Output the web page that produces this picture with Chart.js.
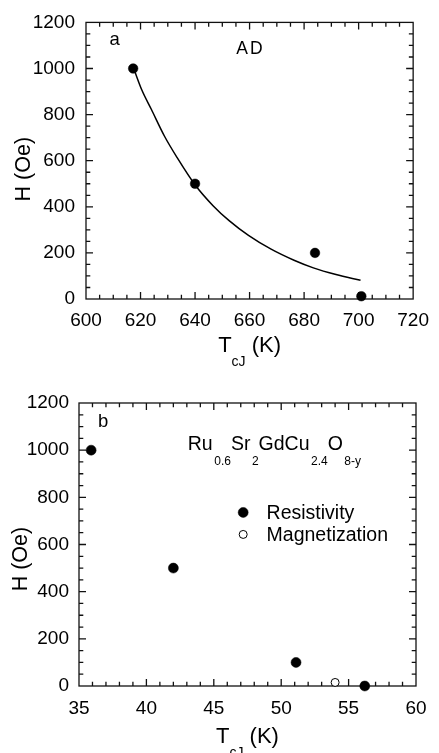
<!DOCTYPE html>
<html>
<head>
<meta charset="utf-8">
<script src="https://cdn.jsdelivr.net/npm/chart.js@4.4.1/dist/chart.umd.min.js"></script>
<style>
  html, body { margin: 0; padding: 0; background: #fff; width: 439px; height: 753px; overflow: hidden; }
  canvas { position: absolute; left: 0; }
  #chartA { top: 0; }
  #chartB { top: 375px; }
</style>
</head>
<body>
<canvas id="chartA" width="439" height="375"></canvas>
<canvas id="chartB" width="439" height="378"></canvas>
<script>
// ---- Panel a: AD sample, field vs junction temperature ----
const adTemps  = [617.3, 640, 684, 701];
const adFields = [1000, 500, 200, 12];
// smooth guide curve through the AD points
const adCurveTemps  = [617.8, 620.4, 624.0, 628.8, 633.5, 639.9, 646.6, 652.5, 659.6, 667.9, 676.3, 683.4, 691.7, 700.7];
const adCurveFields = [990, 909, 822, 706, 612, 497, 405, 340, 276, 216, 168, 135, 106, 81];
const adXTicks = [600, 620, 640, 660, 680, 700, 720];
const adYTicks = [0, 200, 400, 600, 800, 1000, 1200];

// ---- Panel b: Ru0.6Sr2GdCu2.4O8-y ----
const resTemps  = [35.9, 42.0, 51.1, 56.2];
const resFields = [1000, 500, 100, 0];
const magTemps  = [54.0];
const magFields = [15];
const bXTicks = [35, 40, 45, 50, 55, 60];
const bYTicks = [0, 200, 400, 600, 800, 1000, 1200];

const FONT = "'Liberation Sans', Arial, Helvetica, sans-serif";

function font(size) { return size + 'px ' + FONT; }

// draw a run of text pieces, some of them as subscripts
function drawRich(ctx, pieces, x, y, baseSize, subSize, subDrop, subGap) {
  let cx = x;
  for (const [t, sub] of pieces) {
    if (sub) {
      cx += subGap;
      ctx.font = font(subSize);
      ctx.fillText(t, cx, y + subDrop);
    } else {
      ctx.font = font(baseSize);
      ctx.fillText(t, cx, y);
    }
    cx += ctx.measureText(t).width;
  }
  return cx - x;
}
function measureRich(ctx, pieces, baseSize, subSize, subGap) {
  let w = 0;
  for (const [t, sub] of pieces) {
    ctx.font = font(sub ? subSize : baseSize);
    w += ctx.measureText(t).width + (sub ? subGap : 0);
  }
  return w;
}

// frame, inward ticks on all four sides, axis titles and in-plot text
const decor = {
  id: 'decor',
  beforeDatasetsDraw(chart, args, o) {
    const ctx = chart.ctx, a = chart.chartArea;
    ctx.save();
    ctx.strokeStyle = '#111';
    ctx.lineWidth = 1.3;
    ctx.strokeRect(a.left, a.top, a.right - a.left, a.bottom - a.top);
    const sx = chart.scales.x, sy = chart.scales.y;
    const tickSet = (s, minor, major, cb) => {
      const n = Math.round((s.max - s.min) / minor);
      for (let i = 1; i < n; i++) {
        const v = s.min + i * minor;
        const r = v / major;
        const isMajor = Math.abs(r - Math.round(r)) < 1e-6;
        cb(s.getPixelForValue(v), isMajor ? 7 : 4.3);
      }
    };
    ctx.beginPath();
    tickSet(sx, o.xMinor, o.xMajor, (p, len) => {
      ctx.moveTo(p, a.bottom); ctx.lineTo(p, a.bottom - len);
      ctx.moveTo(p, a.top); ctx.lineTo(p, a.top + len);
    });
    tickSet(sy, o.yMinor, o.yMajor, (p, len) => {
      ctx.moveTo(a.left, p); ctx.lineTo(a.left + len, p);
      ctx.moveTo(a.right, p); ctx.lineTo(a.right - len, p);
    });
    ctx.stroke();
    ctx.restore();
  },
  afterDatasetsDraw(chart, args, o) {
    const ctx = chart.ctx, a = chart.chartArea;
    const sx = chart.scales.x, sy = chart.scales.y;
    ctx.save();
    ctx.fillStyle = '#000';
    ctx.textBaseline = 'alphabetic';
    ctx.textAlign = 'left';

    // y axis title
    ctx.save();
    ctx.translate(o.yTitleX, (a.top + a.bottom) / 2 + o.yTitleShift);
    ctx.rotate(-Math.PI / 2);
    ctx.font = font(21.5);
    ctx.textAlign = 'center';
    ctx.fillText('H (Oe)', 0, 0);
    ctx.restore();

    // x axis title with subscript
    const xt = [['T', 0], ['cJ', 1], [' (K)', 0]];
    const wt = measureRich(ctx, xt, 22, 14, 0);
    drawRich(ctx, xt, (a.left + a.right) / 2 - wt / 2, a.bottom + o.xTitleDrop, 22, 14, 14, 0);

    // panel letters and labels
    for (const lab of o.labels) {
      const px = sx.getPixelForValue(lab.x), py = sy.getPixelForValue(lab.y);
      if (lab.pieces) {
        drawRich(ctx, lab.pieces, px, py, lab.size, 12, 14.5, 1.5);
      } else {
        ctx.font = font(lab.size);
        if (lab.spacing) ctx.letterSpacing = lab.spacing + 'px';
        ctx.fillText(lab.text, px, py);
        ctx.letterSpacing = '0px';
      }
    }

    // legend
    if (o.legend) {
      const lx = sx.getPixelForValue(o.legend.x), ly = sy.getPixelForValue(o.legend.y);
      chart.data.datasets.forEach((ds, i) => {
        if (!ds.label) return;
        const yy = ly + i * 22;
        ctx.beginPath();
        ctx.arc(lx, yy, ds.pointRadius, 0, Math.PI * 2);
        ctx.fillStyle = ds.pointBackgroundColor;
        ctx.fill();
        ctx.lineWidth = ds.pointBorderWidth;
        ctx.strokeStyle = ds.pointBorderColor;
        ctx.stroke();
        ctx.fillStyle = '#000';
        ctx.font = font(19.5);
        ctx.fillText(ds.label, lx + 23.4, yy + 7);
      });
    }
    ctx.restore();
  }
};

function axisCfg(ticksArr, min, max, padding, fitFn) {
  return {
    type: 'linear', min, max,
    afterBuildTicks(s) { s.ticks = ticksArr.map(v => ({ value: v })); },
    ticks: {
      color: '#000', font: { family: FONT, size: 19 }, padding, maxRotation: 0, autoSkip: false,
      callback: v => String(v)
    },
    grid: { display: false, drawTicks: false },
    border: { display: false },
    afterFit: fitFn
  };
}

function toXY(xs, ys) { return xs.map((x, i) => ({ x, y: ys[i] })); }

Chart.defaults.font.family = FONT;

new Chart(document.getElementById('chartA'), {
  type: 'scatter',
  data: {
    datasets: [
      {
        data: toXY(adTemps, adFields),
        pointRadius: 4.8, pointBackgroundColor: '#000', pointBorderColor: '#000', pointBorderWidth: 0.5,
        showLine: false, clip: false
      },
      {
        data: toXY(adCurveTemps, adCurveFields),
        showLine: true, pointRadius: 0, borderColor: '#000', borderWidth: 1.5,
        tension: 0.4, cubicInterpolationMode: 'monotone', fill: false, clip: false
      }
    ]
  },
  options: {
    responsive: false, animation: false, devicePixelRatio: 1,
    layout: { padding: { top: 14, right: 16, left: 0, bottom: 0 } },
    plugins: {
      legend: { display: false }, tooltip: { enabled: false },
      decor: {
        xMinor: 5, xMajor: 20, yMinor: 50, yMajor: 200,
        yTitleX: 29.5, yTitleShift: 8.5, xTitleDrop: 53,
        labels: [
          { text: 'a', x: 608.6, y: 1103, size: 18.5 },
          { text: 'AD', x: 655.1, y: 1064, size: 17.5, spacing: 2 }
        ]
      }
    },
    scales: {
      x: axisCfg(adXTicks, 600, 720, 10, s => { s.height = 76; }),
      y: axisCfg(adYTicks, 0, 1200, 11, s => { s.width = 86; })
    }
  },
  plugins: [decor]
});

new Chart(document.getElementById('chartB'), {
  type: 'scatter',
  data: {
    datasets: [
      {
        label: 'Resistivity',
        data: toXY(resTemps, resFields),
        pointRadius: 5, pointBackgroundColor: '#000', pointBorderColor: '#000', pointBorderWidth: 0.5,
        showLine: false, clip: false
      },
      {
        label: 'Magnetization',
        data: toXY(magTemps, magFields),
        pointRadius: 4, pointBackgroundColor: '#fff', pointBorderColor: '#000', pointBorderWidth: 1,
        showLine: false, clip: false
      }
    ]
  },
  options: {
    responsive: false, animation: false, devicePixelRatio: 1,
    layout: { padding: { top: 28, right: 23, left: 0, bottom: 0 } },
    plugins: {
      legend: { display: false }, tooltip: { enabled: false },
      decor: {
        xMinor: 1, xMajor: 5, yMinor: 50, yMajor: 200,
        yTitleX: 27, yTitleShift: 14.6, xTitleDrop: 57,
        labels: [
          { text: 'b', x: 36.41, y: 1098, size: 18.5 },
          { pieces: [['Ru', 0], ['0.6', 1], ['Sr', 0], ['2', 1], ['GdCu', 0], ['2.4', 1], ['O', 0], ['8-y', 1]],
            x: 43.07, y: 1000, size: 19.5 }
        ],
        legend: { x: 47.18, y: 736 }
      }
    },
    scales: {
      x: axisCfg(bXTicks, 35, 60, 11, s => { s.height = 67; }),
      y: axisCfg(bYTicks, 0, 1200, 10, s => { s.width = 79; })
    }
  },
  plugins: [decor]
});
</script>
</body>
</html>
